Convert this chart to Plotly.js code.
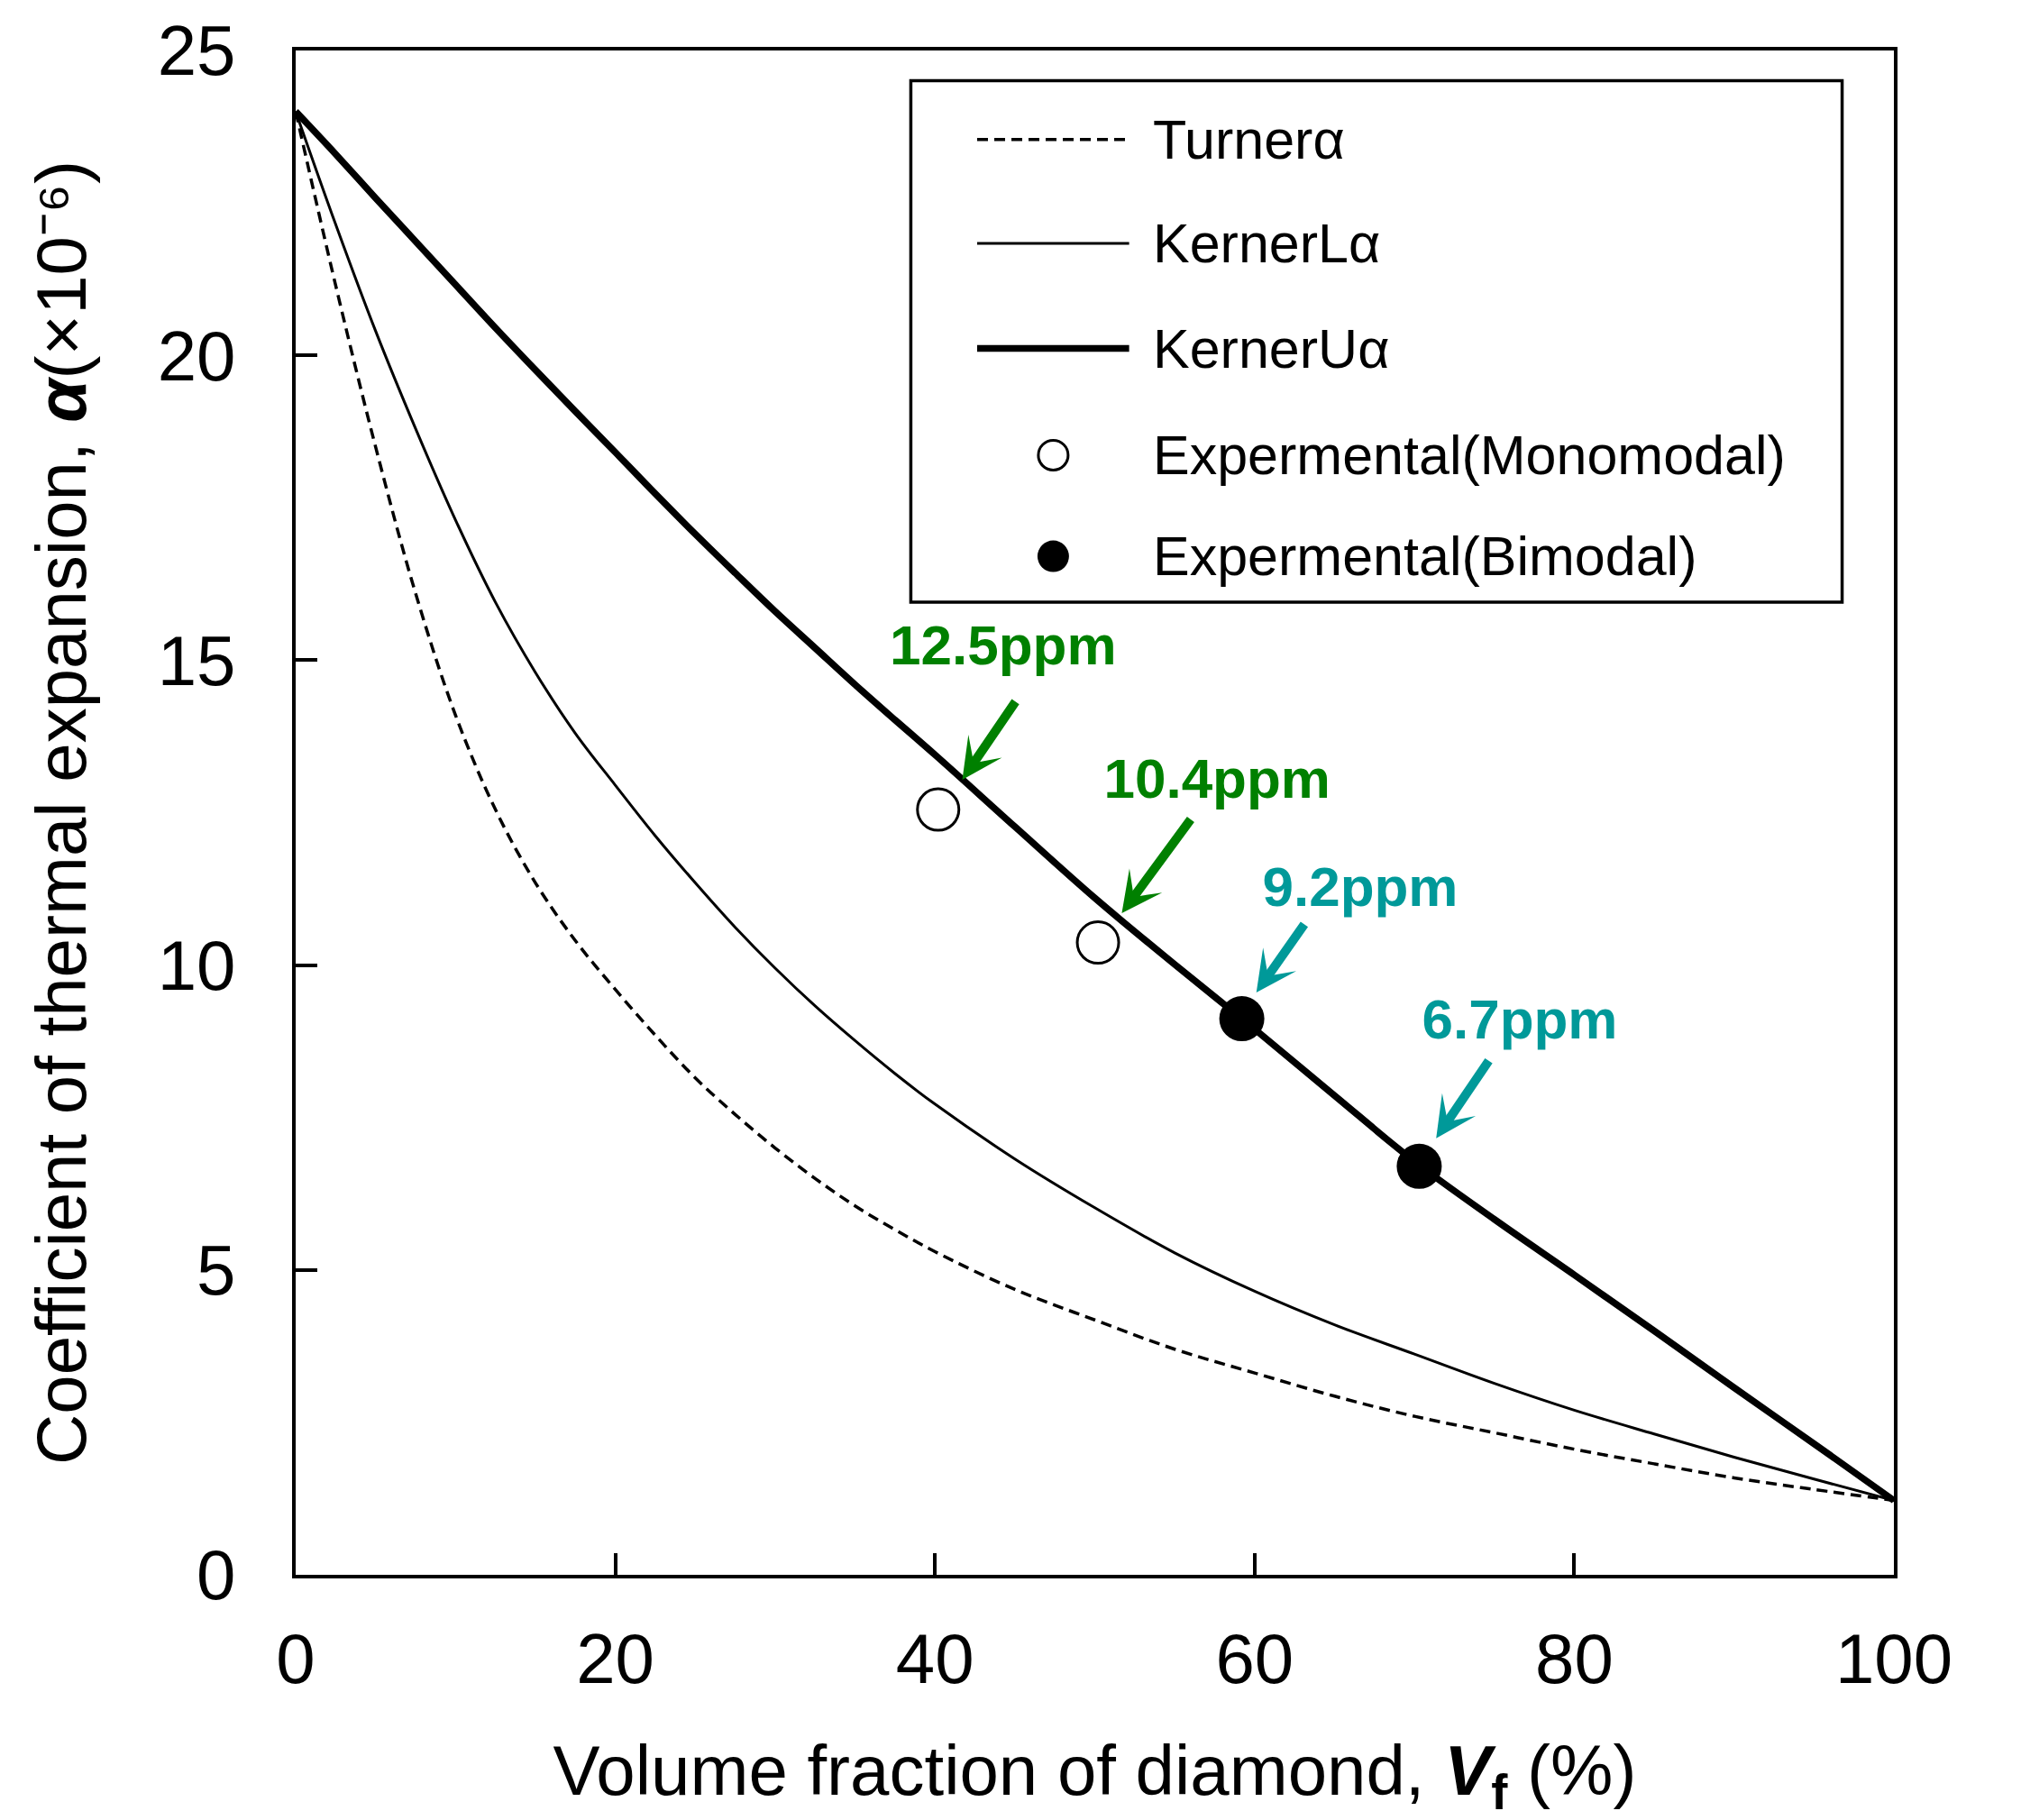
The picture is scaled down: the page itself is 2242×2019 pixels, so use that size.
<!DOCTYPE html>
<html><head><meta charset="utf-8">
<script src="https://cdn.plot.ly/plotly-3.0.1.min.js"></script>
<style>html,body{margin:0;padding:0;background:#fff}</style>
</head><body>
<div id="chart" style="width:2242px;height:2019px"></div>
<script>
// ---------- data ----------
const vf      = [0, 2.5, 5, 7.5, 10, 12.5, 15, 17.5, 20, 22.5, 25, 27.5, 30, 32.5, 35, 37.5, 40, 45, 50, 55, 60, 65, 70, 75, 80, 85, 90, 95, 100];
const turner  = [24, 21.15, 18.5, 16.1, 14.1, 12.55, 11.35, 10.4, 9.6, 8.85, 8.15, 7.55, 7.0, 6.5, 6.05, 5.66, 5.3, 4.68, 4.18, 3.70, 3.31, 2.93, 2.60, 2.33, 2.06, 1.82, 1.59, 1.40, 1.22];
const kernerL = [24, 22.15, 20.4, 18.8, 17.3, 15.95, 14.8, 13.8, 12.95, 12.12, 11.35, 10.62, 9.95, 9.33, 8.76, 8.22, 7.72, 6.82, 6.02, 5.28, 4.65, 4.10, 3.62, 3.14, 2.70, 2.31, 1.93, 1.57, 1.22];
const kernerU = [24, 23.3, 22.58, 21.87, 21.16, 20.45, 19.76, 19.08, 18.41, 17.73, 17.07, 16.43, 15.8, 15.2, 14.6, 14.02, 13.45, 12.27, 11.1, 10.01, 8.95, 7.86, 6.78, 5.83, 4.92, 4.0, 3.07, 2.15, 1.22];
const monoVf  = [40.2, 50.2];
const monoCTE = [12.55, 10.37];
const biVf    = [59.2, 70.3];
const biCTE   = [9.12, 6.70];
const seriesNames = ['Turnerα', 'KernerLα', 'KernerUα', 'Expermental(Monomodal)', 'Expermental(Bimodal)'];
const ppmLabels = ['12.5ppm', '10.4ppm', '9.2ppm', '6.7ppm'];
const xTicks = [0, 20, 40, 60, 80, 100];
const yTicks = [0, 5, 10, 15, 20, 25];

// ---------- styles ----------
const FONT = 'Liberation Sans, Arial, Helvetica, sans-serif';
const GREEN = '#008000';
const TEAL = '#009999';
const DASH = '12px,7px';

const traces = [
  {x: vf, y: turner, name: seriesNames[0], mode: 'lines', line: {color: 'black', width: 3.5, dash: DASH, shape: 'spline', smoothing: 1}},
  {x: vf, y: kernerL, name: seriesNames[1], mode: 'lines', line: {color: 'black', width: 3, shape: 'spline', smoothing: 1}},
  {x: vf, y: kernerU, name: seriesNames[2], mode: 'lines', line: {color: 'black', width: 7.5, shape: 'spline', smoothing: 1}},
  {x: monoVf, y: monoCTE, name: seriesNames[3], mode: 'markers', marker: {symbol: 'circle-open', size: 46, color: 'black', line: {width: 3, color: 'black'}}},
  {x: biVf, y: biCTE, name: seriesNames[4], mode: 'markers', marker: {symbol: 'circle', size: 50, color: 'black'}}
];

// ppm callouts: arrow tail (ax, ay) -> tip (x, y) in data coords; label box sits above the tail
const arrowPos = [[45.04, 14.32, 41.71, 13.04], [56.0, 12.39, 51.69, 10.85], [63.11, 10.67, 60.11, 9.55], [74.65, 8.43, 71.36, 7.16]];
const labelBox = [{w: 280, pad: 27, align: 'left'}, {w: 310, pad: 10, align: 'right'}, {w: 341, pad: 6.5, align: 'right'}, {w: 285, pad: 11.5, align: 'right'}];
const labelColors = [GREEN, GREEN, TEAL, TEAL];

const annotations = [];
ppmLabels.forEach((t, i) => {
  annotations.push({
    x: arrowPos[i][2], y: arrowPos[i][3], ax: arrowPos[i][0], ay: arrowPos[i][1],
    xref: 'x', yref: 'y', axref: 'x', ayref: 'y',
    text: '<b>' + t + '</b>', font: {family: FONT, size: 62, color: labelColors[i]},
    xanchor: 'center', yanchor: 'bottom', width: labelBox[i].w, align: labelBox[i].align, borderpad: labelBox[i].pad,
    showarrow: true, arrowhead: 3, arrowsize: 0.75, arrowwidth: 10, arrowcolor: labelColors[i], standoff: 0
  });
});

// legend drawn inside a framed box (paper coords)
const legRows = [0.9416, 0.8735, 0.8045, 0.7345, 0.6682];
const legLineX = [0.4264, 0.5215];
const legMarkX = 0.474;
const legTextX = 0.5352;
const shapes = [
  {type: 'rect', xref: 'paper', yref: 'paper', x0: 0.3849, x1: 0.9676, y0: 0.6381, y1: 0.9802, line: {color: 'black', width: 3.5}, fillcolor: 'rgba(0,0,0,0)'},
  {type: 'line', xref: 'paper', yref: 'paper', x0: legLineX[0], x1: legLineX[1], y0: legRows[0], y1: legRows[0], line: {color: 'black', width: 3.5, dash: DASH}},
  {type: 'line', xref: 'paper', yref: 'paper', x0: legLineX[0], x1: legLineX[1], y0: legRows[1], y1: legRows[1], line: {color: 'black', width: 3}},
  {type: 'line', xref: 'paper', yref: 'paper', x0: legLineX[0], x1: legLineX[1], y0: legRows[2], y1: legRows[2], line: {color: 'black', width: 7.5}},
  {type: 'circle', xref: 'paper', yref: 'paper', xsizemode: 'pixel', ysizemode: 'pixel', xanchor: legMarkX, yanchor: legRows[3], x0: -16.5, x1: 16.5, y0: -16.5, y1: 16.5, line: {color: 'black', width: 3}, fillcolor: 'white'},
  {type: 'circle', xref: 'paper', yref: 'paper', xsizemode: 'pixel', ysizemode: 'pixel', xanchor: legMarkX, yanchor: legRows[4], x0: -17.5, x1: 17.5, y0: -17.5, y1: 17.5, line: {color: 'black', width: 0}, fillcolor: 'black'}
];
seriesNames.forEach((n, i) => {
  annotations.push({x: legTextX, y: legRows[i], xref: 'paper', yref: 'paper', text: n, showarrow: false,
    xanchor: 'left', yanchor: 'middle', font: {family: FONT, size: 61, color: 'black'}});
});

const axisCommon = {
  showline: true, linewidth: 4, linecolor: 'black', mirror: true,
  ticks: 'inside', ticklen: 24, tickwidth: 4, tickcolor: 'black',
  showgrid: false, zeroline: false,
  tickfont: {family: FONT, size: 78, color: 'black'}
};

const layout = {
  width: 2242, height: 2019,
  margin: {l: 328, r: 141, t: 56, b: 272, pad: 0},
  paper_bgcolor: 'white', plot_bgcolor: 'white',
  font: {family: FONT, color: 'black'},
  showlegend: false,
  xaxis: Object.assign({}, axisCommon, {
    range: [0, 100], tickvals: xTicks, ticktext: xTicks.map(String), ticklabelstandoff: 22,
    title: {text: 'Volume fraction of diamond, <b><i>V</i><span style="font-size:70%;baseline-shift:-0.3em">f</span></b> (%)', font: {family: FONT, size: 78, color: 'black'}, standoff: 122}
  }),
  yaxis: Object.assign({}, axisCommon, {
    range: [0, 25], tickvals: yTicks, ticktext: yTicks.map(String), ticklabelstandoff: 47,
    title: {text: 'Coefficient of thermal expansion, <b><i>α</i></b>(×10⁻⁶)', font: {family: FONT, size: 78, color: 'black'}, standoff: 54}
  }),
  annotations: annotations,
  shapes: shapes
};

Plotly.newPlot('chart', traces, layout, {displayModeBar: false, staticPlot: true});
</script>
</body></html>
